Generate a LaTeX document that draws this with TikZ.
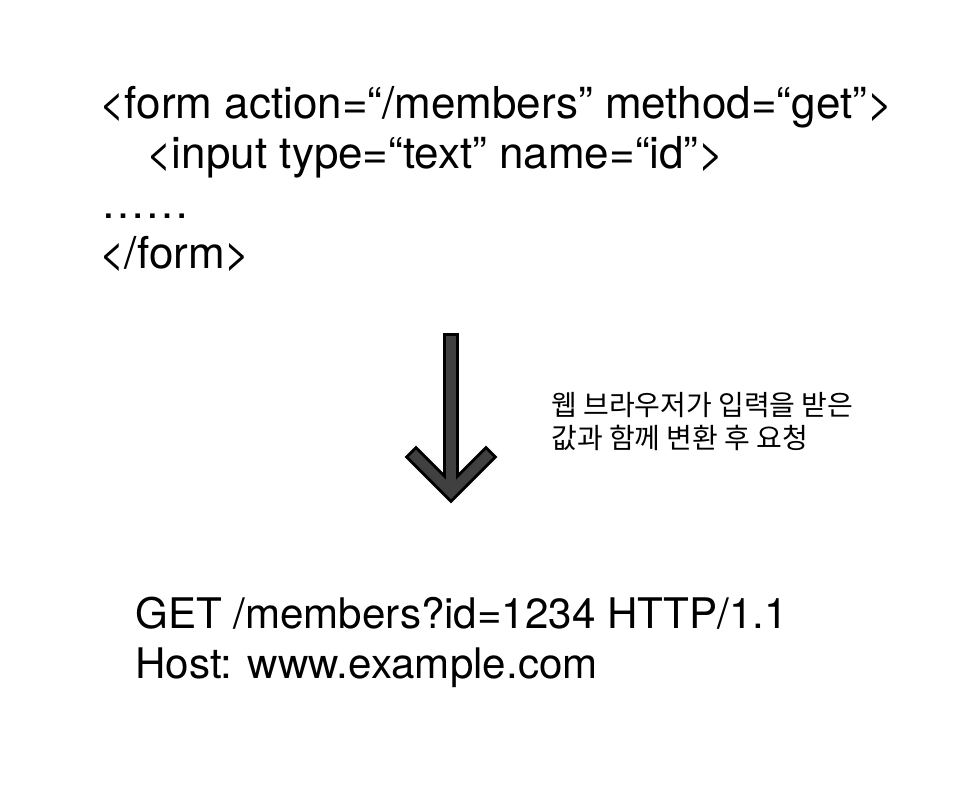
\documentclass[tikz,border=0pt]{standalone}
\usepackage{fontspec}
\setmainfont{TeX Gyre Heros}
\newfontfamily\krfont{Noto Sans CJK KR}
\usetikzlibrary{positioning}

\begin{document}
\begin{tikzpicture}[
  x=0.75pt, y=-0.75pt,
  code/.style={anchor=base west, inner sep=0pt, font=\fontsize{33}{37.5}\selectfont},
  request/.style={anchor=base west, inner sep=0pt, font=\fontsize{31.6}{37.5}\selectfont},
  note/.style={anchor=base west, inner sep=0pt, font=\krfont\fontsize{21}{24}\selectfont},
  arrowout/.style={line width=12pt, line cap=rect, line join=miter, black},
  arrowin/.style={line width=7.5pt, line cap=rect, line join=miter, black!75},
]
\useasboundingbox (0,0) rectangle (965,797);

% HTML form
\node[code] (form1) at (99,118) {<form action=“/members” method=“get”>};
\node[code] (input1) at (146,168) {<input type=“text” name=“id”>};
\node[code] (dots) at (101,218) {……};
\node[code] (formend) at (99,268) {</form>};

% Request
\node[request] (reqline) at (135,628) {GET /members?id=1234 HTTP/1.1};
\node[request] (hostline) at (135,678) {Host: www.example.com};

% Note
\node[note] (note1) at (551,415) {웹 브라우저가 입력을 받은};
\node[note] (note2) at (551,448) {값과 함께 변환 후 요청};

% Arrow
\coordinate (arrtop) at (451,341);
\coordinate (arrend) at (451,484);
\coordinate (arrtip) at (451,492);
\coordinate (arrl) at (416,457);
\coordinate (arrr) at (486,457);
\draw[arrowout] (arrtop) -- (arrend);
\draw[arrowout] (arrl) -- (arrtip) -- (arrr);
\draw[arrowin] (arrtop) -- (arrend);
\draw[arrowin] (arrl) -- (arrtip) -- (arrr);
\end{tikzpicture}
\end{document}
